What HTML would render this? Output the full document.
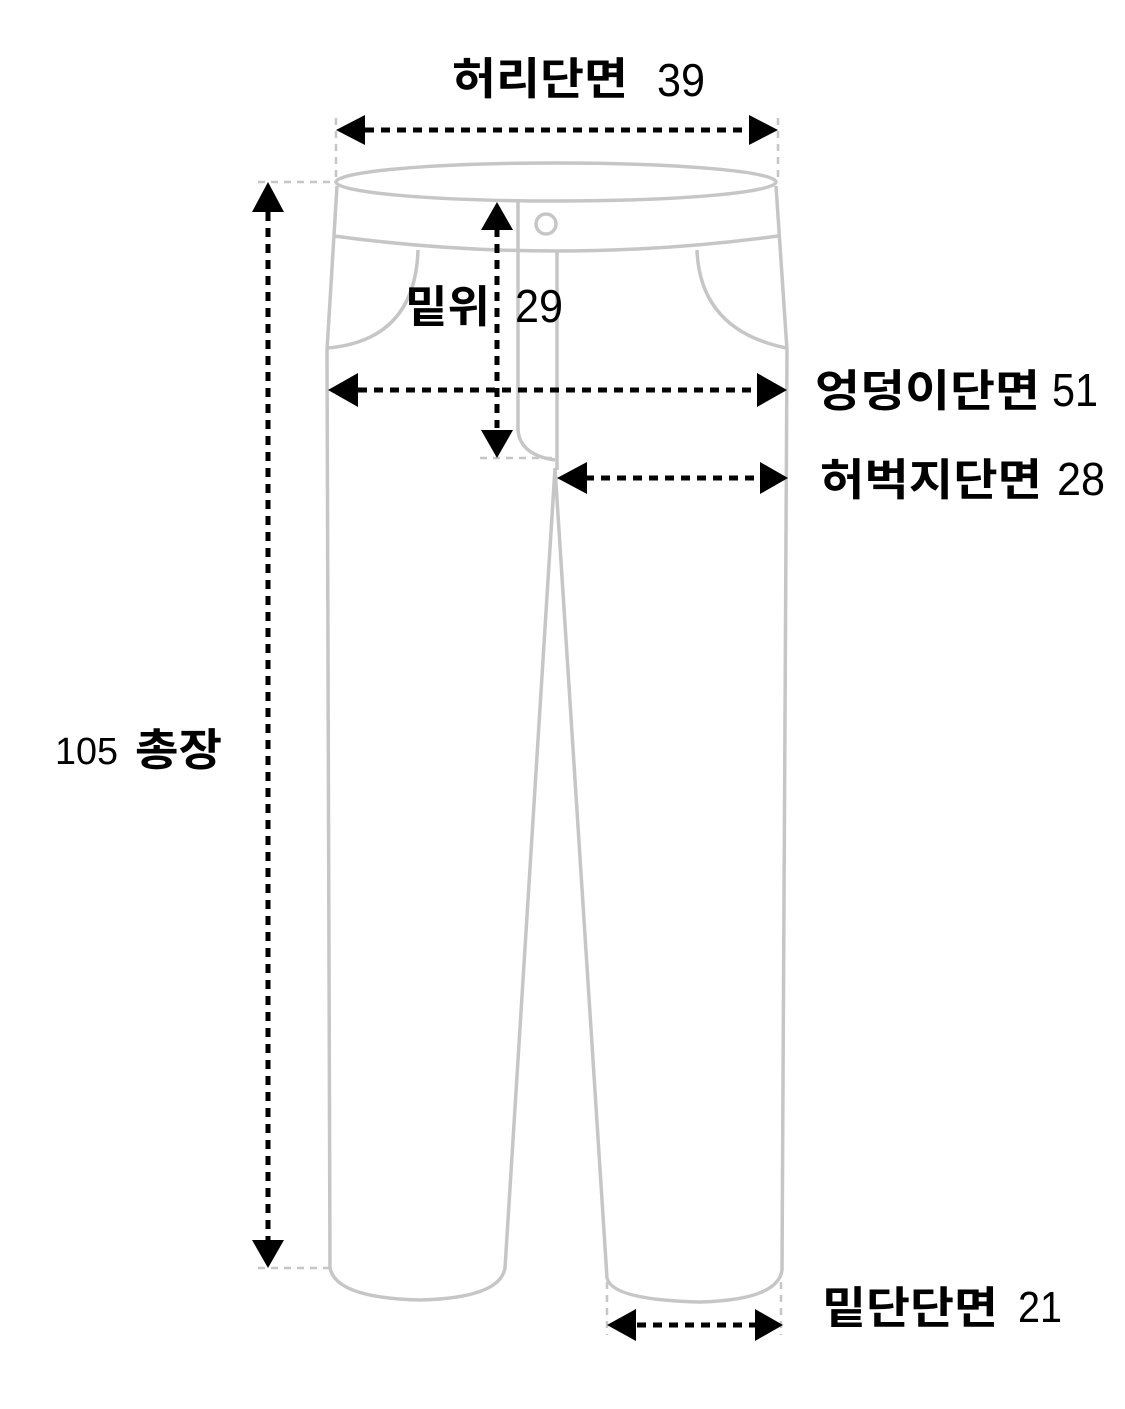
<!DOCTYPE html>
<html><head><meta charset="utf-8"><style>
html,body{margin:0;padding:0;background:#fff}
svg{display:block}
text{font-family:"Liberation Sans","Noto Sans CJK KR",sans-serif;font-weight:bold;fill:#000}
text.n{font-weight:normal}
</style></head><body>
<svg width="1125" height="1409" viewBox="0 0 1125 1409" xmlns="http://www.w3.org/2000/svg">
<g fill="none" stroke="#c6c6c6" stroke-width="3.5">
<ellipse cx="556" cy="182" rx="220" ry="19"/>
<path d="M334,236 Q556,266 778,236"/>
<path d="M337,186 L327,350 L330,1268 Q336,1298 420,1300 Q500,1298 505,1268 L555,468 L607,1278 Q612,1300 700,1302 Q778,1300 782,1270 L787,350 L776,186"/>
<path d="M518,202 L518,430 Q520,455 555,460"/>
<path d="M557,250 L557,470"/>
<circle cx="546" cy="224" r="10"/>
<path d="M418,250 Q415,340 328,348"/>
<path d="M697,250 Q700,330 786,348"/>
</g>
<g stroke="#c6c6c6" stroke-width="2.5" stroke-dasharray="7,6">
<line x1="336" y1="118" x2="336" y2="180"/>
<line x1="778" y1="118" x2="778" y2="180"/>
<line x1="258" y1="182" x2="336" y2="182"/>
<line x1="258" y1="1268" x2="330" y2="1268"/>
<line x1="480" y1="458" x2="555" y2="458"/>
<line x1="607" y1="1282" x2="607" y2="1335"/>
<line x1="781" y1="1282" x2="781" y2="1335"/>
</g>
<g stroke="#000" stroke-width="5" stroke-dasharray="9,7">
<line x1="365" y1="130" x2="750" y2="130"/>
<line x1="268" y1="212" x2="268" y2="1240"/>
<line x1="497" y1="228" x2="497" y2="428"/>
<line x1="358" y1="390" x2="758" y2="390"/>
<line x1="585" y1="478" x2="760" y2="478"/>
<line x1="637" y1="1325" x2="755" y2="1325"/>
</g>
<g fill="#000">
<polygon points="336,130 365,115 365,145"/>
<polygon points="778,130 749,115 749,145"/>
<polygon points="268,182 252,212 284,212"/>
<polygon points="268,1268 252,1240 284,1240"/>
<polygon points="497,202 481,230 513,230"/>
<polygon points="497,458 481,430 513,430"/>
<polygon points="328,390 358,373 358,407"/>
<polygon points="787,390 757,373 757,407"/>
<polygon points="557,478 587,462 587,494"/>
<polygon points="788,478 760,462 760,494"/>
<polygon points="607,1325 636,1309 636,1341"/>
<polygon points="783,1325 755,1309 755,1341"/>
</g>
<text x="452" y="94" font-size="44" textLength="176" lengthAdjust="spacingAndGlyphs">허리단면</text>
<text class="n" x="657" y="96" font-size="46" textLength="48" lengthAdjust="spacingAndGlyphs">39</text>
<text x="405" y="322" font-size="44" textLength="85" lengthAdjust="spacingAndGlyphs">밑위</text>
<text class="n" x="515" y="322" font-size="46" textLength="48" lengthAdjust="spacingAndGlyphs">29</text>
<text x="815" y="406" font-size="44" textLength="225" lengthAdjust="spacingAndGlyphs">엉덩이단면</text>
<text class="n" x="1052" y="406" font-size="46" textLength="46" lengthAdjust="spacingAndGlyphs">51</text>
<text x="820" y="495" font-size="44" textLength="222" lengthAdjust="spacingAndGlyphs">허벅지단면</text>
<text class="n" x="1057" y="495" font-size="46" textLength="48" lengthAdjust="spacingAndGlyphs">28</text>
<text class="n" x="55" y="764" font-size="38" textLength="63" lengthAdjust="spacingAndGlyphs">105</text>
<text x="135" y="765" font-size="44" textLength="87" lengthAdjust="spacingAndGlyphs">총장</text>
<text x="822" y="1323" font-size="44" textLength="176" lengthAdjust="spacingAndGlyphs">밑단단면</text>
<text class="n" x="1018" y="1322" font-size="44" textLength="44" lengthAdjust="spacingAndGlyphs">21</text>
</svg>
</body></html>
